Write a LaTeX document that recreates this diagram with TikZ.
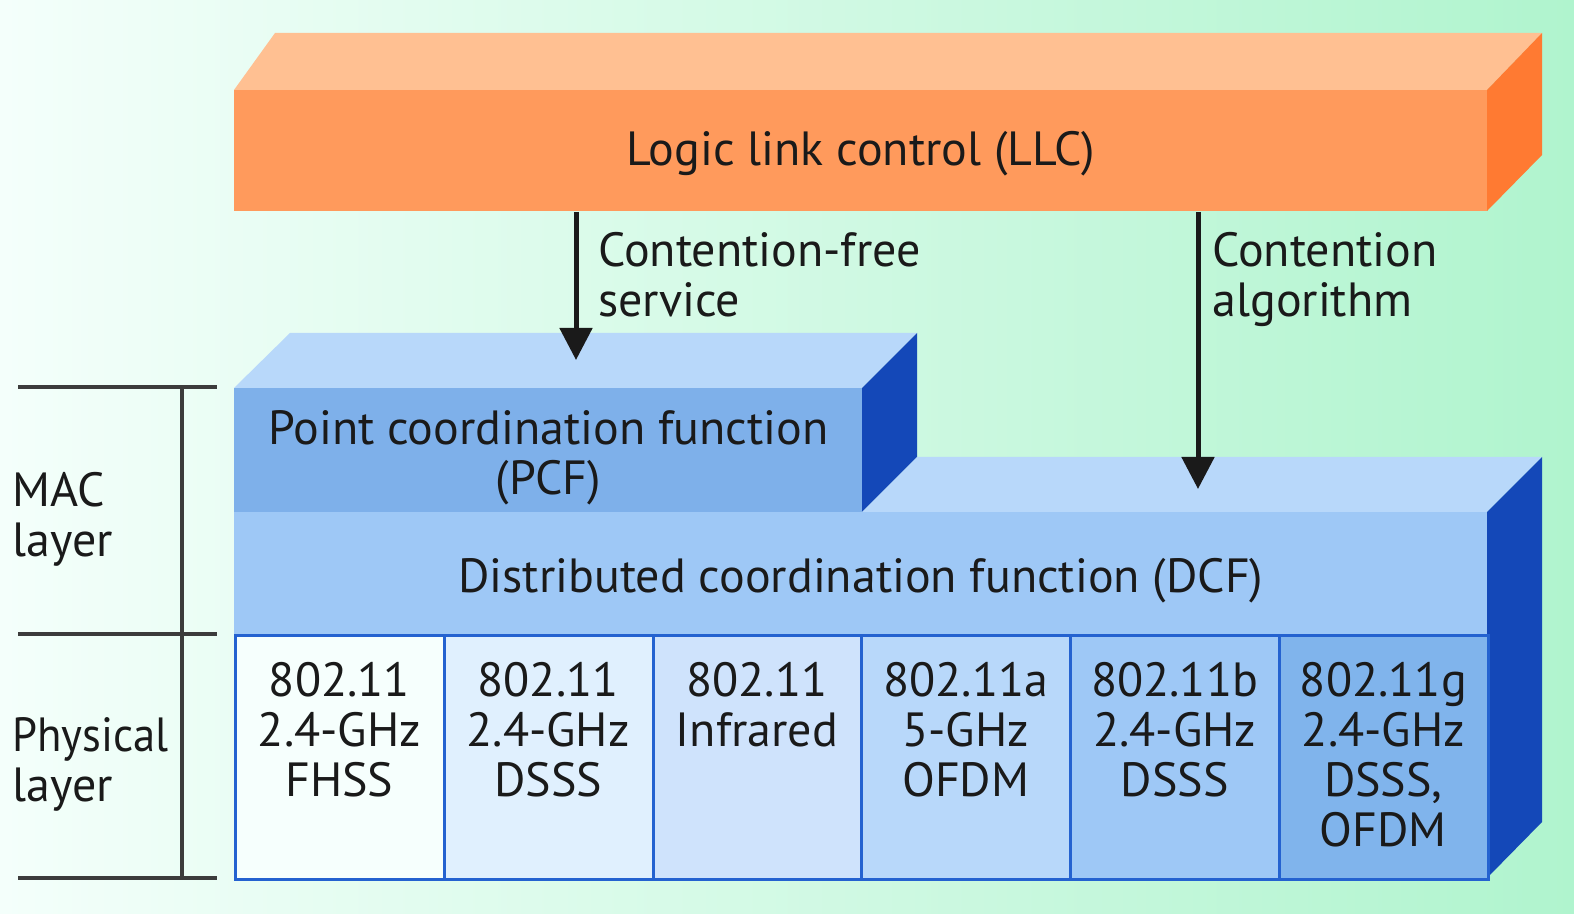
\documentclass[tikz,border=0pt]{standalone}
\usepackage{fontspec}
\setmainfont{PT Sans}
\usetikzlibrary{arrows.meta}

\definecolor{bgL}{HTML}{F4FFFB}
\definecolor{bgR}{HTML}{B0F4CE}
\definecolor{llcTop}{HTML}{FFC092}
\definecolor{llcFront}{HTML}{FF9A5C}
\definecolor{llcSide}{HTML}{FF7A32}
\definecolor{blTop}{HTML}{B8D8FA}
\definecolor{blSide}{HTML}{1448B8}
\definecolor{pcfFront}{HTML}{7EB0EA}
\definecolor{dcfFront}{HTML}{9EC8F6}
\definecolor{cellLine}{HTML}{2462D0}
\definecolor{cA}{HTML}{F6FFFD}
\definecolor{cB}{HTML}{E0F0FE}
\definecolor{cC}{HTML}{CFE3FC}
\definecolor{cD}{HTML}{B8D8FA}
\definecolor{cE}{HTML}{9EC8F6}
\definecolor{cF}{HTML}{80B4EC}
\definecolor{ink}{HTML}{1A1A1A}

\begin{document}
\begin{tikzpicture}[x=0.5pt,y=-0.5pt,
  txt/.style={font=\fontsize{24}{25}\selectfont, text=ink, inner sep=0pt},
  front/.style={anchor=north west, inner sep=0pt},
  cell/.style={draw=cellLine, line width=1.5pt, anchor=north west,
    minimum width=104.4pt, minimum height=122pt, inner sep=0pt},
  celltext/.style={txt, anchor=north, align=center},
  lbl/.style={txt, anchor=north west, align=left},
  arr/.style={draw=ink, line width=2.5pt, -{Triangle[length=16pt,width=16pt]}},
  brk/.style={draw=ink!85, line width=1.6pt}]

\useasboundingbox (0,0) rectangle (1574,914);
\shade[left color=bgL, right color=bgR] (0,0) rectangle (1574,914);

% Logic link control block
\fill[llcTop] (234,90) -- (275,33) -- (1542,33) -- (1487,90) -- cycle;
\fill[llcSide] (1487,90) -- (1542,33) -- (1542,155) -- (1487,211) -- cycle;
\node[front, fill=llcFront, minimum width=626.5pt, minimum height=60.5pt]
  (llc) at (234,90) {};
\node[txt] (llcT) at ([yshift=-1.5pt]llc.center) {Logic link control (LLC)};

% Point coordination function block
\fill[blTop] (234,388) -- (290,333) -- (917,333) -- (862,388) -- cycle;
\fill[blSide] (862,388) -- (917,333) -- (917,457) -- (862,512) -- cycle;
\node[front, fill=pcfFront, minimum width=314pt, minimum height=62pt]
  (pcf) at (234,388) {};
\node[txt, align=center] (pcfT) at ([yshift=-3.5pt]pcf.center)
  {Point coordination function\\(PCF)};

% Distributed coordination function block with the physical layers below
\fill[blTop] (862,512) -- (917,457) -- (1542,457) -- (1487,512) -- cycle;
\fill[blSide] (1487,512) -- (1542,457) -- (1542,822) -- (1487,878) -- cycle;
\node[front, fill=dcfFront, minimum width=626.5pt, minimum height=61pt]
  (dcf) at (234,512) {};
\node[txt] (dcfT) at ([yshift=-3.5pt]dcf.center)
  {Distributed coordination function (DCF)};

% Physical layer cells
\node[cell, fill=cA] (p1) at (234.0,634) {};
\node[cell, fill=cB] (p2) at (442.8,634) {};
\node[cell, fill=cC] (p3) at (651.6,634) {};
\node[cell, fill=cD] (p4) at (860.4,634) {};
\node[cell, fill=cE] (p5) at (1069.2,634) {};
\node[cell, fill=cF] (p6) at (1278.0,634) {};

\node[celltext] (t1) at (339.4,662) {802.11\\2.4-GHz\\FHSS};
\node[celltext] (t2) at (548.2,662) {802.11\\2.4-GHz\\DSSS};
\node[celltext] (t3) at (757.0,662) {802.11\\Infrared};
\node[celltext] (t4) at (965.8,662) {802.11a\\5-GHz\\OFDM};
\node[celltext] (t5) at (1174.6,662) {802.11b\\2.4-GHz\\DSSS};
\node[celltext] (t6) at (1383.4,662) {802.11g\\2.4-GHz\\DSSS,\\OFDM};

% Service arrows
\coordinate (cfEnd) at (576,360);
\coordinate (caEnd) at (1198,489);
\draw[arr] (llc.south -| cfEnd) -- (cfEnd);
\draw[arr] (llc.south -| caEnd) -- (caEnd);
\node[lbl] (cfLbl) at (598,232) {Contention-free\\service};
\node[lbl] (caLbl) at (1212,232) {Contention\\algorithm};

% Layer bracket on the left
\coordinate (bTop) at (18,387);
\coordinate (bMid) at (18,634);
\coordinate (bBot) at (18,878);
\draw[brk] (bTop) -- ++(199,0);
\draw[brk] (bMid) -- ++(199,0);
\draw[brk] (bBot) -- ++(199,0);
\draw[brk] (182,387) -- (182,878);
\node[lbl] (mac) at (12,472) {MAC\\layer};
\node[lbl] (phy) at (12,717) {\scalebox{0.93}[1]{Physical}\\layer};
\end{tikzpicture}
\end{document}
